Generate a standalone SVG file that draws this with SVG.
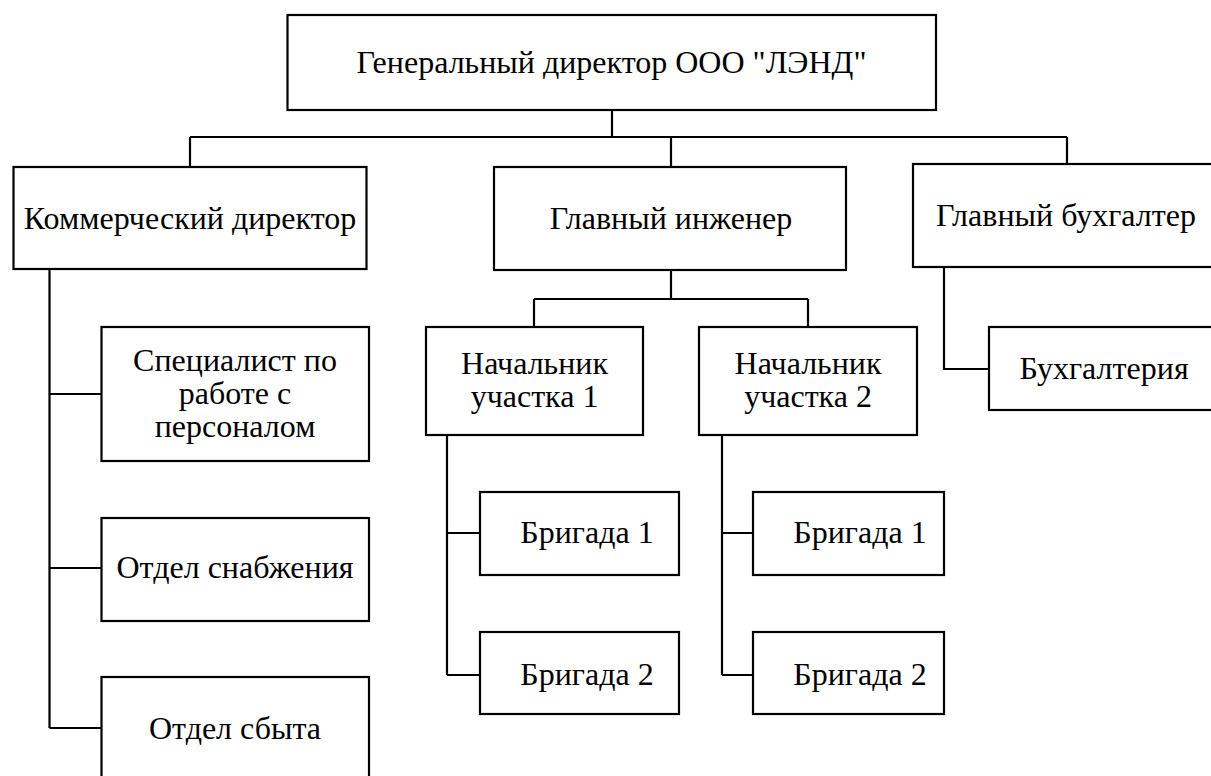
<svg xmlns="http://www.w3.org/2000/svg" width="1211" height="776" viewBox="0 0 1211 776">
<style>
rect{fill:#fff;stroke:#000;stroke-width:2.2}
text{font-family:"Liberation Serif","Times New Roman",serif;font-size:32px;fill:#000;text-anchor:middle}
#connectors path{fill:none;stroke:#000;stroke-width:2.2}
</style>
<rect x="0" y="0" width="1211" height="776" style="stroke:none"/>
<g id="connectors">
<path d="M612 110V137M190 137H1067M190 137V167M671 137V167M1067 137V164"/>
<path d="M49.5 269V728M49.5 394H101.5M49.5 568H101.5M49.5 728H101.5"/>
<path d="M671 270V299M534 299H808M534 299V327M808 299V327"/>
<path d="M447 435V675M447 533H480M447 675H480"/>
<path d="M722 435V675M722 533H753M722 675H753"/>
<path d="M944 267V369H989"/>
</g>
<g id="gen"><rect x="287.5" y="15" width="648.5" height="95"/><text x="611.5" y="73">Генеральный директор ООО "ЛЭНД"</text></g>
<g id="kom"><rect x="13.5" y="167" width="353" height="102"/><text x="190" y="229">Коммерческий директор</text></g>
<g id="ing"><rect x="494" y="167" width="352" height="103"/><text x="671" y="229">Главный инженер</text></g>
<g id="buh"><rect x="913" y="164" width="310" height="103"/><text x="1066" y="226">Главный бухгалтер</text></g>
<g id="spec"><rect x="101.5" y="327" width="267.5" height="134"/><text x="235" y="371">Специалист по</text><text x="235" y="404">работе с</text><text x="235" y="437">персоналом</text></g>
<g id="snab"><rect x="101.5" y="518" width="267.5" height="103"/><text x="235" y="578">Отдел снабжения</text></g>
<g id="sbyt"><rect x="101.5" y="677" width="267.5" height="120"/><text x="235" y="739">Отдел сбыта</text></g>
<g id="nach1"><rect x="426" y="327" width="217" height="108"/><text x="534.5" y="374">Начальник</text><text x="534.5" y="407">участка 1</text></g>
<g id="nach2"><rect x="699" y="327" width="218" height="108"/><text x="808" y="374">Начальник</text><text x="808" y="407">участка 2</text></g>
<g id="br11"><rect x="480" y="492" width="199" height="83"/><text x="587" y="543">Бригада 1</text></g>
<g id="br12"><rect x="480" y="632" width="199" height="82"/><text x="587" y="685">Бригада 2</text></g>
<g id="br21"><rect x="753" y="492" width="191" height="83"/><text x="860" y="543">Бригада 1</text></g>
<g id="br22"><rect x="753" y="632" width="191" height="82"/><text x="860" y="685">Бригада 2</text></g>
<g id="buhg"><rect x="989" y="327" width="240" height="83"/><text x="1104" y="379">Бухгалтерия</text></g>
</svg>
